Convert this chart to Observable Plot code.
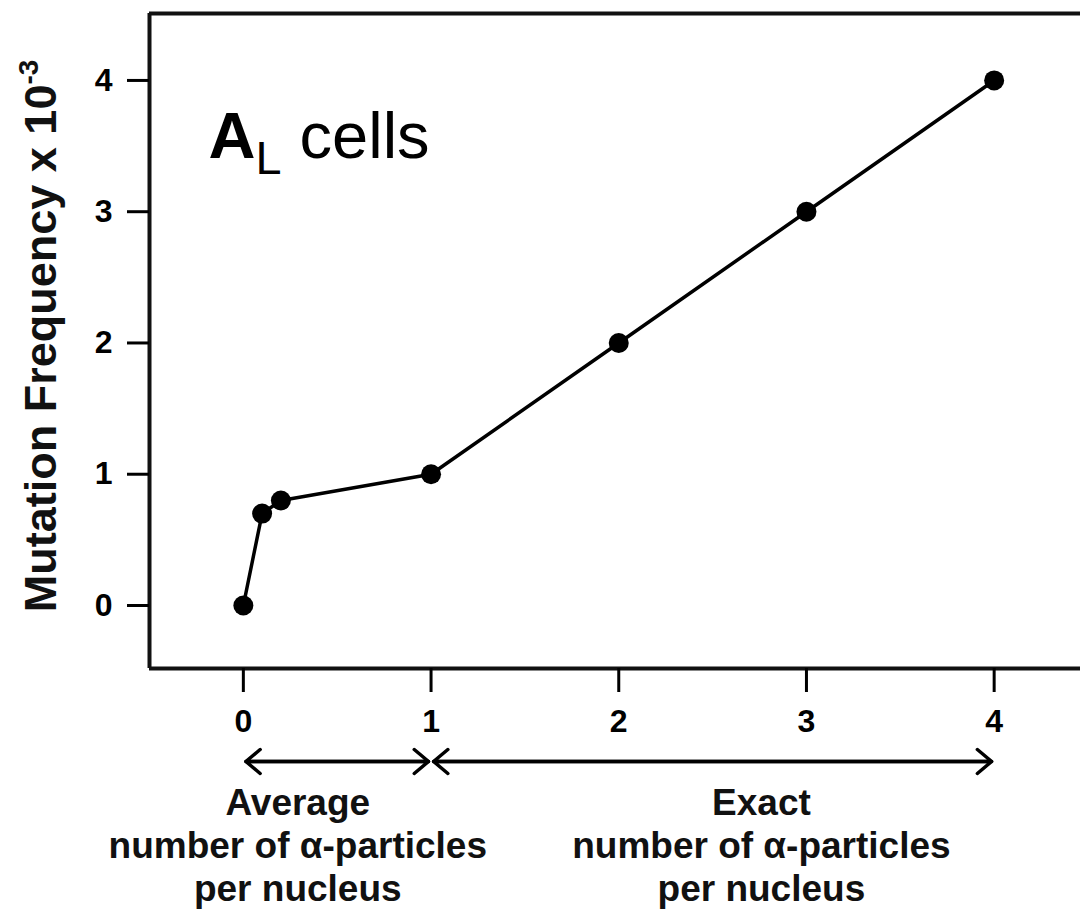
<!DOCTYPE html>
<html>
<head>
<meta charset="utf-8">
<script src="https://cdn.jsdelivr.net/npm/d3@7"></script>
<script src="https://cdn.jsdelivr.net/npm/@observablehq/plot@0.6"></script>
<style>
  html, body { margin: 0; padding: 0; background: #fff; overflow: hidden; }
  #chart svg { display: block; }
</style>
</head>
<body>
<div id="chart"></div>
<script>
// ---- data ----
const xValues = [0, 0.1, 0.2, 1, 2, 3, 4];
const yValues = [0, 0.7, 0.8, 1, 2, 3, 4];
const xTicks = [0, 1, 2, 3, 4];
const yTicks = [0, 1, 2, 3, 4];
const xDomain = [-0.5, 4.46];
const yDomain = [-0.48, 4.51];
const rangeArrows = [{from: 0, to: 1}, {from: 1, to: 4}];
const groupLabels = [
  {x: 0.29, text: "Average\nnumber of α-particles\nper nucleus"},
  {x: 2.76, text: "Exact\nnumber of α-particles\nper nucleus"}
];
const yLabelMain = "Mutation Frequency x 10";
const yLabelSup = "-3";
const panelMain = "A";
const panelSub = "L";
const panelRest = " cells";

const data = xValues.map((x, i) => ({x, y: yValues[i]}));
const yLabelFull = yLabelMain + yLabelSup;
const panelFull = panelMain + panelSub + panelRest;

const arrowOpts = {
  y1: () => yDomain[0], y2: () => yDomain[0],
  dy: 93, inset: 2.5, stroke: "#000", strokeWidth: 3.5, headLength: 8, headAngle: 80
};

const chart = Plot.plot({
  width: 1080,
  height: 911,
  marginLeft: 149,
  marginRight: 0,
  marginTop: 13,
  marginBottom: 243,
  x: {domain: xDomain},
  y: {domain: yDomain},
  style: {fontFamily: "'Liberation Sans', Arial, sans-serif", background: "#fff", color: "#000"},
  marks: [
    Plot.ruleX([xDomain[0]], {strokeWidth: 4, stroke: "#111"}),
    Plot.ruleY(yDomain, {strokeWidth: 4, stroke: "#111"}),
    Plot.axisX(xTicks, {tickSize: 24, tickPadding: 17, fontSize: 32, fontWeight: "bold", strokeWidth: 3, label: null, tickFormat: d => String(d)}),
    Plot.axisY(yTicks, {tickSize: 22, tickPadding: 15, fontSize: 32, fontWeight: "bold", strokeWidth: 3, label: null, tickFormat: d => String(d)}),
    Plot.line(data, {x: "x", y: "y", stroke: "#000", strokeWidth: 3.5}),
    Plot.dot(data, {x: "x", y: "y", r: 10, fill: "#000"}),
    Plot.arrow(rangeArrows, {x1: "from", x2: "to", ...arrowOpts}),
    Plot.arrow(rangeArrows, {x1: "to", x2: "from", ...arrowOpts}),
    Plot.text(groupLabels, {
      x: "x", text: "text", frameAnchor: "bottom", lineAnchor: "top",
      dy: 116, fontSize: 37, fontWeight: "bold", lineHeight: 1.16, fill: "#111"
    }),
    Plot.text([yLabelFull], {
      text: d => d, frameAnchor: "left", textAnchor: "middle", rotate: -90, dx: -108, dy: -5,
      fontSize: 45, fontWeight: "bold", fill: "#111"
    }),
    Plot.text([panelFull], {
      text: d => d, frameAnchor: "top-left", textAnchor: "start", lineAnchor: "bottom",
      dx: 59, dy: 144, fontSize: 65, fill: "#000"
    })
  ]
});

// rich text (superscript / subscript) as real tspans
d3.select(chart).selectAll("text").each(function () {
  const t = d3.select(this);
  const s = this.textContent;
  if (s === yLabelFull) {
    t.text(yLabelMain);
    t.append("tspan").attr("dy", -18).attr("font-size", "0.62em").text(yLabelSup);
  } else if (s === panelFull) {
    t.text(null);
    t.append("tspan").attr("font-weight", "bold").text(panelMain);
    t.append("tspan").attr("font-size", "0.72em").attr("dy", 16).text(panelSub);
    t.append("tspan").attr("dy", -16).text(panelRest);
  }
});

document.getElementById("chart").appendChild(chart);
</script>
</body>
</html>
